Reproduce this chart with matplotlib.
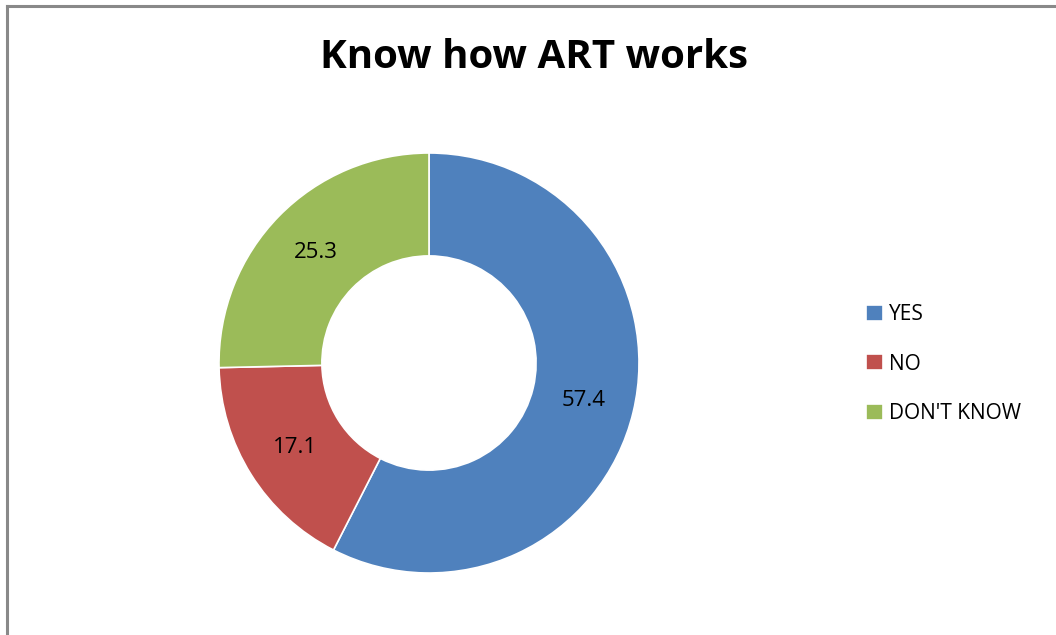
import numpy as np
from matplotlib import pyplot as plt
from matplotlib.lines import Line2D

# Data
categories = ["YES", "NO", "DON'T KNOW"]
values = [57.4, 17.1, 25.3]
colors = ["#4F81BD", "#C0504D", "#9BBB59"]
title = "Know how ART works"

plt.rcParams["font.family"] = ["Open Sans", "DejaVu Sans"]

W, H = 1056, 635
fig = plt.figure(figsize=(W / 100, H / 100), dpi=100)

# outer frame (only top and left edges are visible in the reference)
fig.add_artist(Line2D([7 / W, 7 / W], [0, 1 - 6 / H], color="#898989", lw=2.2))
fig.add_artist(Line2D([7 / W, 1], [1 - 6 / H, 1 - 6 / H], color="#898989", lw=2.2))

cx, cy, r = 429, 363, 210
ax = fig.add_axes([(cx - r) / W, (H - cy - r) / H, 2 * r / W, 2 * r / H])
wedges, _ = ax.pie(
    values,
    colors=colors,
    startangle=90,
    counterclock=False,
    radius=1.0,
    wedgeprops=dict(width=0.49, edgecolor="white", linewidth=1.2),
)
ax.set_aspect("equal")
ax.set_xlim(-1, 1)
ax.set_ylim(-1, 1)

for w, v in zip(wedges, values):
    ang = np.deg2rad((w.theta1 + w.theta2) / 2)
    ax.text(0.755 * np.cos(ang), 0.755 * np.sin(ang), f"{v}",
            ha="center", va="center", fontsize=16, color="black")

fig.text(534 / W, 1 - 58 / H, title, ha="center", va="center",
         fontsize=29, fontweight="bold")

fig.legend(wedges, categories, loc="center left",
           bbox_to_anchor=(856 / W, 1 - 364 / H), frameon=False,
           fontsize=15, handlelength=0.8, handleheight=0.8,
           handletextpad=0.3, labelspacing=1.37, borderpad=0)

fig.savefig("out.png", dpi=100)
